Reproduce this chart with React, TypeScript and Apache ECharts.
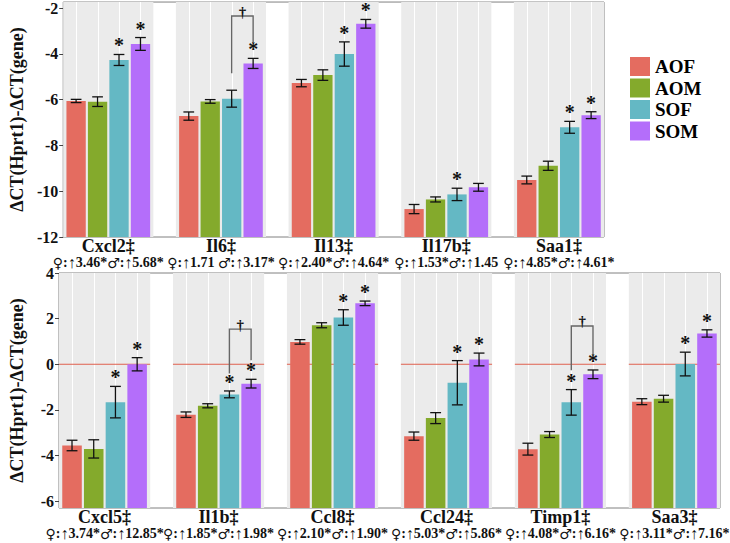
import React, { useEffect, useRef } from 'react';
import * as echarts from 'echarts';

// ---------- data ----------
const groupNames = ['AOF', 'AOM', 'SOF', 'SOM'];
const groupColors = ['#E46C60', '#84AA2C', '#64B8C4', '#B46EFA'];

const topGenes = ['Cxcl2', 'Il6', 'Il13', 'Il17b', 'Saa1'];
const topFold = [
  '♀:↑3.46*♂:↑5.68*',
  '♀:↑1.71 ♂:↑3.17*',
  '♀:↑2.40*♂:↑4.64*',
  '♀:↑1.53*♂:↑1.45',
  '♀:↑4.85*♂:↑4.61*',
];
const topAOF = [-6.06, -6.72, -5.28, -10.78, -9.51];
const topAOM = [-6.09, -6.08, -4.93, -10.36, -8.89];
const topSOF = [-4.27, -5.96, -4.01, -10.14, -7.21];
const topSOM = [-3.57, -4.42, -2.69, -9.83, -6.68];
const topAOFErr = [0.07, 0.18, 0.16, 0.2, 0.17];
const topAOMErr = [0.21, 0.08, 0.23, 0.11, 0.2];
const topSOFErr = [0.24, 0.37, 0.53, 0.27, 0.26];
const topSOMErr = [0.28, 0.22, 0.19, 0.17, 0.15];
const topSOFStar = [1, 0, 1, 1, 1];
const topSOMStar = [1, 1, 1, 0, 1];
// bracket: gene index, top level, left leg end, right leg end
const topBrackets = [[1, -2.35, -4.85, -3.53]];

const botGenes = ['Cxcl5', 'Il1b', 'Ccl8', 'Ccl24', 'Timp1', 'Saa3'];
const botFold = [
  '♀:↑3.74*♂:↑12.85*',
  '♀:↑1.85*♂:↑1.98*',
  '♀:↑2.10*♂:↑1.90*',
  '♀:↑5.03*♂:↑5.86*',
  '♀:↑4.08*♂:↑6.16*',
  '♀:↑3.11*♂:↑7.16*',
];
const botAOF = [-3.56, -2.21, 0.98, -3.15, -3.72, -1.64];
const botAOM = [-3.71, -1.82, 1.71, -2.36, -3.08, -1.51];
const botSOF = [-1.66, -1.32, 2.05, -0.81, -1.67, 0.01];
const botSOM = [0.0, -0.85, 2.67, 0.21, -0.44, 1.35];
const botAOFErr = [0.23, 0.12, 0.1, 0.18, 0.26, 0.13];
const botAOMErr = [0.4, 0.09, 0.11, 0.24, 0.13, 0.15];
const botSOFErr = [0.69, 0.15, 0.34, 0.97, 0.56, 0.52];
const botSOMErr = [0.29, 0.19, 0.1, 0.28, 0.19, 0.16];
const botSOFStar = [1, 1, 1, 1, 1, 1];
const botSOMStar = [1, 1, 1, 1, 1, 1];
const botBrackets = [
  [1, 1.54, -0.41, 0.18],
  [4, 1.68, -0.26, 0.4],
];
const botYTicks = [-6, -4, -2, 0, 2, 4];

// ---------- layout constants (x units) ----------
const SLOT = 5.25;
const SPAN = 4.2;
const PAD = 0.6;
const BARW = 0.9;
const CAPW = 0.5;
const SERIF = '"Liberation Serif", "Times New Roman", serif';
const SANS = '"DejaVu Sans", sans-serif';
const YNAME = 'ΔCT(Hprt1)-ΔCT(gene)';

function richFold(s: string) {
  let out = '';
  let buf = '';
  const flush = () => {
    if (buf) out += '{b|' + buf + '}';
    buf = '';
  };
  for (const ch of Array.from(s)) {
    if (ch === '♀' || ch === '♂') {
      flush();
      out += '{s|' + ch + '}';
    } else if (ch === '↑') {
      flush();
      out += '{u|' + ch + '}';
    } else {
      buf += ch;
    }
  }
  flush();
  return out;
}

const foldRich = {
  b: { fontFamily: SERIF, fontWeight: 'bold', fontSize: 14, fill: '#111' },
  s: { fontFamily: SANS, fontWeight: 'normal', fontSize: 14, fill: '#111' },
  u: { fontFamily: SERIF, fontWeight: 'bold', fontSize: 16, fill: '#111' },
};

function buildPanel(
  p: number,
  genes: string[],
  fold: string[],
  means: number[][],
  errs: number[][],
  stars: number[][],
  brackets: number[][],
  zeroLine: boolean
) {
  const series: any[] = [];
  series.push({
    type: 'custom',
    name: 'bg' + p,
    xAxisIndex: p,
    yAxisIndex: p,
    silent: true,
    clip: false,
    z: 1,
    data: genes.map((_, g) => [g]),
    renderItem: (params: any, api: any) => {
      const cs = params.coordSys;
      const s = api.value(0) * SLOT;
      const x0 = api.coord([s, 0])[0];
      const x1 = api.coord([s + SPAN, 0])[0];
      const children: any[] = [
        {
          type: 'rect',
          shape: { x: x0, y: cs.y, width: x1 - x0, height: cs.height },
          style: { fill: '#EBEBEB' },
        },
      ];
      for (let i = 0; i < 4; i++) {
        const xx = Math.round(api.coord([s + PAD + i, 0])[0]) + 0.5;
        children.push({
          type: 'line',
          shape: { x1: xx, y1: cs.y, x2: xx, y2: cs.y + cs.height },
          style: { stroke: '#FFFFFF', lineWidth: 1 },
        });
      }
      if (zeroLine) {
        const y0 = api.coord([s, 0])[1];
        children.push({
          type: 'line',
          shape: { x1: x0, y1: y0, x2: x1, y2: y0 },
          style: { stroke: '#E0604F', lineWidth: 1 },
        });
      }
      return { type: 'group', children };
    },
  });

  for (let k = 0; k < 4; k++) {
    const color = groupColors[k];
    series.push({
      type: 'custom',
      name: groupNames[k],
      xAxisIndex: p,
      yAxisIndex: p,
      clip: false,
      z: 2,
      itemStyle: { color },
      data: genes.map((_, g) => [g * SLOT + PAD + k, means[k][g], errs[k][g], stars[k][g]]),
      renderItem: (params: any, api: any) => {
        const cs = params.coordSys;
        const x = api.value(0);
        const v = api.value(1);
        const e = api.value(2);
        const star = api.value(3);
        const w = api.size([BARW, 0])[0];
        const cap = api.size([CAPW, 0])[0] / 2;
        const pt = api.coord([x, v]);
        const hi = api.coord([x, v + e])[1];
        const lo = api.coord([x, v - e])[1];
        const yBase = cs.y + cs.height;
        const cx = pt[0];
        const children: any[] = [
          {
            type: 'rect',
            shape: { x: cx - w / 2, y: pt[1], width: w, height: yBase - pt[1] },
            style: { fill: color },
          },
          {
            type: 'line',
            shape: { x1: cx, y1: hi, x2: cx, y2: lo },
            style: { stroke: '#111', lineWidth: 1.3 },
          },
          {
            type: 'line',
            shape: { x1: cx - cap, y1: hi, x2: cx + cap, y2: hi },
            style: { stroke: '#111', lineWidth: 1.3 },
          },
          {
            type: 'line',
            shape: { x1: cx - cap, y1: lo, x2: cx + cap, y2: lo },
            style: { stroke: '#111', lineWidth: 1.3 },
          },
        ];
        if (star) {
          children.push({
            type: 'text',
            style: {
              text: '*',
              x: cx,
              y: hi - 9,
              align: 'center',
              verticalAlign: 'middle',
              font: 'bold 20px ' + SERIF,
              fill: '#111',
            },
          });
        }
        return { type: 'group', children };
      },
    });
  }

  series.push({
    type: 'custom',
    name: 'br' + p,
    xAxisIndex: p,
    yAxisIndex: p,
    silent: true,
    clip: false,
    z: 3,
    data: brackets,
    renderItem: (params: any, api: any) => {
      const g = api.value(0);
      const xl = api.coord([g * SLOT + PAD + 2, 0])[0];
      const xr = api.coord([g * SLOT + PAD + 3, 0])[0];
      const yt = api.coord([0, api.value(1)])[1];
      const yl = api.coord([0, api.value(2)])[1];
      const yr = api.coord([0, api.value(3)])[1];
      return {
        type: 'group',
        children: [
          {
            type: 'polyline',
            shape: { points: [[xl, yl], [xl, yt], [xr, yt], [xr, yr]] },
            style: { stroke: '#666', lineWidth: 1.4, fill: 'none' },
          },
          {
            type: 'text',
            style: {
              text: '†',
              x: (xl + xr) / 2,
              y: yt + 3,
              align: 'center',
              verticalAlign: 'bottom',
              font: 'bold 15px ' + SERIF,
              fill: '#111',
            },
          },
        ],
      };
    },
  });

  // gene labels under each facet
  series.push({
    type: 'custom',
    name: 'lab' + p,
    xAxisIndex: p,
    yAxisIndex: p,
    silent: true,
    clip: false,
    z: 3,
    data: genes.map((_, g) => [g * SLOT + SPAN / 2]),
    renderItem: (params: any, api: any) => {
      const cs = params.coordSys;
      const g = params.dataIndex;
      const cx = api.coord([api.value(0), 0])[0];
      const yb = cs.y + cs.height;
      return {
        type: 'group',
        children: [
          {
            type: 'text',
            style: {
              text: genes[g] + '‡',
              x: cx,
              y: yb + 8.5,
              align: 'center',
              verticalAlign: 'middle',
              font: 'bold 18px ' + SERIF,
              fill: '#111',
            },
          },
          {
            type: 'text',
            style: {
              text: richFold(fold[g]),
              rich: foldRich,
              x: cx,
              y: yb + 25.5,
              align: 'center',
              verticalAlign: 'middle',
              font: 'bold 14px ' + SERIF,
              fill: '#111',
            },
          },
        ],
      };
    },
  });

  const xAxis = {
    type: 'value',
    gridIndex: p,
    min: 0,
    max: genes.length * SLOT - (SLOT - SPAN),
    axisLine: { show: false },
    axisTick: { show: false },
    splitLine: { show: false },
    axisLabel: { show: false },
  };
  return { series, xAxis };
}

export default function App() {
  const ref = useRef<HTMLDivElement>(null);
  useEffect(() => {
    if (!ref.current) return;
    const chart = echarts.init(ref.current, undefined, { renderer: 'svg' });
    const top = buildPanel(
      0,
      topGenes,
      topFold,
      [topAOF, topAOM, topSOF, topSOM],
      [topAOFErr, topAOMErr, topSOFErr, topSOMErr],
      [[0, 0, 0, 0, 0], [0, 0, 0, 0, 0], topSOFStar, topSOMStar],
      topBrackets,
      false
    );
    const bot = buildPanel(
      1,
      botGenes,
      botFold,
      [botAOF, botAOM, botSOF, botSOM],
      [botAOFErr, botAOMErr, botSOFErr, botSOMErr],
      [[0, 0, 0, 0, 0, 0], [0, 0, 0, 0, 0, 0], botSOFStar, botSOMStar],
      botBrackets,
      true
    );
    const yCommon = {
      type: 'value',
      axisLine: { show: false },
      axisTick: { show: true, length: 4, lineStyle: { color: '#444' } },
      splitLine: { show: false },
      name: YNAME,
      nameLocation: 'middle',
      nameGap: 33,
      nameTextStyle: { fontFamily: SERIF, fontWeight: 'bold', fontSize: 18, color: '#111' },
    };
    const yLabel = { fontFamily: SERIF, fontWeight: 'bold', fontSize: 16, color: '#111', margin: 5 };
    chart.setOption({
      animation: false,
      backgroundColor: '#ffffff',
      color: groupColors,
      grid: [
        { left: 42, top: 2, width: 562, height: 235, show: true, borderColor: '#808080', borderWidth: 1, backgroundColor: 'transparent' },
        { left: 42, top: 273, width: 678, height: 235, show: true, borderColor: '#808080', borderWidth: 1, backgroundColor: 'transparent' },
      ],
      xAxis: [top.xAxis, bot.xAxis],
      yAxis: [
        { ...yCommon, gridIndex: 0, min: -12, max: -1.74, interval: 2, axisLabel: { ...yLabel } },
        {
          ...yCommon,
          gridIndex: 1,
          min: -6.3,
          max: 4,
          axisLabel: { ...yLabel, customValues: botYTicks },
          axisTick: { ...yCommon.axisTick, customValues: botYTicks },
        },
      ],
      legend: {
        data: groupNames.map((n, i) => ({ name: n, itemStyle: { color: groupColors[i] } })),
        orient: 'vertical',
        left: 630,
        top: 57,
        padding: 0,
        itemWidth: 20,
        itemHeight: 19,
        itemGap: 2.5,
        icon: 'rect',
        selectedMode: false,
        textStyle: { fontFamily: SERIF, fontWeight: 'bold', fontSize: 19, lineHeight: 19, color: '#000' },
      },
      series: [...top.series, ...bot.series],
    });
    return () => chart.dispose();
  }, []);
  return (
    <div
      ref={ref}
      style={{ position: 'fixed', left: 0, top: 0, width: 730, height: 543 }}
    />
  );
}
